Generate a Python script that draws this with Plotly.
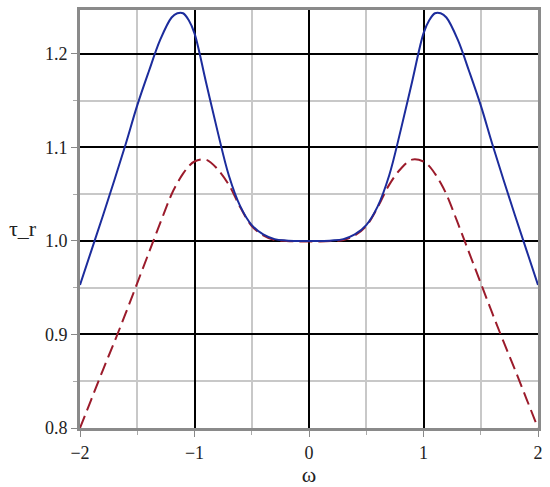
"""Group delay style plot: two symmetric curves over omega."""
import plotly.graph_objects as go

# half-curve samples (w <= 0), mirrored below
omega_half = [-2.0, -1.9, -1.8, -1.7, -1.6, -1.5, -1.4, -1.3, -1.2, -1.15, -1.1, -1.05,
              -1.0, -0.9, -0.8, -0.7, -0.6, -0.5, -0.4, -0.3, -0.2, -0.1, 0.0]
tau_solid_half = [0.953, 0.990, 1.027, 1.065, 1.104, 1.145, 1.181, 1.215, 1.239, 1.2435, 1.2435, 1.236,
                  1.222, 1.170, 1.118, 1.070, 1.037, 1.017, 1.007, 1.002, 1.0005, 1.0, 1.0]
tau_dash_half = [0.800, 0.831, 0.862, 0.892, 0.923, 0.955, 0.987, 1.019, 1.050, 1.062, 1.072, 1.080,
                 1.085, 1.087, 1.077, 1.060, 1.036, 1.016, 1.006, 1.001, 1.0, 0.9995, 0.9995]

omega = omega_half + [-w for w in omega_half[-2::-1]]
tau_solid = tau_solid_half + tau_solid_half[-2::-1]
tau_dash = tau_dash_half + tau_dash_half[-2::-1]

serif = 'Liberation Serif'

fig = go.Figure()
fig.add_trace(go.Scatter(x=omega, y=tau_dash, mode='lines', line_shape='spline',
                         line=dict(color='#9b1b2b', width=2, dash='13px,6px')))
fig.add_trace(go.Scatter(x=omega, y=tau_solid, mode='lines', line_shape='spline',
                         line=dict(color='#1c2c9c', width=2)))

tick_font = dict(family=serif, size=18, color='#222')

fig.update_xaxes(range=[-2, 2], dtick=1, tick0=0, showgrid=True, automargin=False,
                 gridcolor='black', gridwidth=1.5, zeroline=False,
                 minor=dict(dtick=0.5, showgrid=True, gridcolor='#c8c8c8', gridwidth=1.5,
                            ticks='outside', ticklen=4, tickcolor='#aaa'),
                 showline=True, linecolor='#8a8a8a', linewidth=3, mirror=True,
                 ticks='outside', ticklen=6, tickcolor='#888', tickfont=tick_font,
                 title=dict(text='ω', font=dict(family=serif, size=22, color='#222'),
                            standoff=4))
fig.update_yaxes(range=[0.8, 1.247], dtick=0.1, tick0=0.8, tickformat='.1f', showgrid=True,
                 automargin=False, gridcolor='black', gridwidth=1.5, zeroline=False,
                 minor=dict(dtick=0.05, showgrid=True, gridcolor='#c8c8c8', gridwidth=1.5,
                            ticks='outside', ticklen=4, tickcolor='#aaa'),
                 showline=True, linecolor='#8a8a8a', linewidth=3, mirror=True,
                 ticks='outside', ticklen=6, tickcolor='#888', tickfont=tick_font)

# horizontal y-axis label, as in the original
fig.add_annotation(text='τ_r', xref='paper', yref='y', x=-0.16, y=1.013,
                   showarrow=False, xanchor='left',
                   font=dict(family=serif, size=22, color='#222'))

fig.update_layout(width=550, height=487, showlegend=False,
                  font=dict(family=serif, color='#222'),
                  plot_bgcolor='white', paper_bgcolor='white',
                  margin=dict(l=80, r=12, t=10, b=59))

# page body has a default 8px margin; drop it so the figure fills the window
fig.write_html("out.html", config={'displayModeBar': False},
               post_script="document.body.style.margin='0';")
